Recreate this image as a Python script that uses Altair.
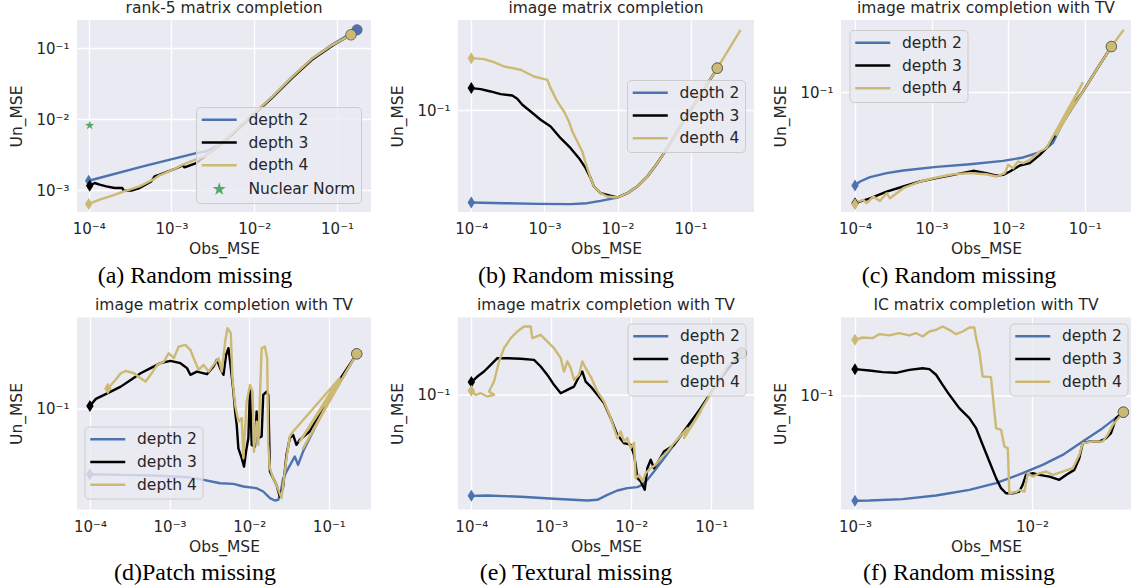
import altair as alt
import pandas as pd

FONT = "DejaVu Sans"
TXT = "#262626"
BG = "#EAEAF2"
COLORS = {"depth 2": "#4C72B0", "depth 3": "#000000", "depth 4": "#CCB974", "Nuclear Norm": "#55A868"}
SERIES = ["depth 2", "depth 3", "depth 4"]
LINE_PATH = "M-3.5,0L3.5,0"
STAR_PATH = ("M0,-1L0.235,-0.324L0.951,-0.309L0.38,0.124L0.588,0.809L0,0.4"
             "L-0.588,0.809L-0.38,0.124L-0.951,-0.309L-0.235,-0.324Z")
LEGEND_STAR_PATH = ("M0,-0.6L0.141,-0.194L0.571,-0.185L0.228,0.074L0.353,0.485L0,0.24"
                    "L-0.353,0.485L-0.228,0.074L-0.571,-0.185L-0.141,-0.194Z")
DIAMOND_PATH = "M0,-1L0.62,0L0,1L-0.62,0Z"

# ---- data: log10(Obs_MSE) and log10(Un_MSE) ----
# (a) rank-5 matrix completion
A2_X = [-4.000, -3.345, -2.701, -2.581, -2.420, -2.259, -2.018, -1.776, -1.535, -1.294, -1.053, -0.759]
A2_Y = [-2.869, -2.667, -2.479, -2.455, -2.362, -2.197, -1.939, -1.681, -1.399, -1.141, -0.944, -0.742]
A3_X = [-3.988, -3.928, -3.867, -3.787, -3.686, -3.594, -3.578, -3.485, -3.385, -3.244, -3.204, -3.144,
        -2.983, -2.862, -2.842, -2.701, -2.581, -2.420, -2.259, -2.018, -1.776, -1.535, -1.294, -1.053, -0.832]
A3_Y = [-2.939, -2.901, -2.925, -2.948, -2.972, -2.972, -3.009, -3.009, -2.972, -2.878, -2.808, -2.784,
        -2.714, -2.653, -2.681, -2.620, -2.512, -2.371, -2.207, -1.948, -1.690, -1.413, -1.155, -0.962, -0.812]
A4_X = [-4.000, -3.867, -3.706, -3.546, -3.385, -3.224, -3.144, -2.983, -2.862, -2.741, -2.581, -2.420,
        -2.259, -2.018, -1.776, -1.535, -1.294, -1.053, -0.832]
A4_Y = [-3.197, -3.136, -3.075, -3.009, -2.948, -2.854, -2.793, -2.714, -2.643, -2.587, -2.512, -2.362,
        -2.197, -1.939, -1.681, -1.399, -1.141, -0.953, -0.812]
NN_X = [-3.988]
NN_Y = [-2.089]

# (b) image matrix completion
B_TAIL_X = [-2.003, -1.866, -1.729, -1.592, -1.456, -1.319, -1.182, -1.045, -0.863, -0.635]
B_TAIL_Y = [-1.750, -1.713, -1.655, -1.569, -1.454, -1.325, -1.181, -1.037, -0.865, -0.635]
B2_X = [-4.000, -3.553, -3.097, -2.641, -2.413, -2.231] + B_TAIL_X
B2_Y = [-1.793, -1.799, -1.805, -1.807, -1.799, -1.779] + B_TAIL_Y
B3_X = [-4.000, -3.872, -3.736, -3.599, -3.439, -3.371, -3.302, -3.188, -3.052, -2.915, -2.778, -2.641,
        -2.527, -2.436, -2.368, -2.322, -2.231, -2.140] + B_TAIL_X
B3_Y = [-0.807, -0.816, -0.836, -0.859, -0.871, -0.899, -0.951, -1.009, -1.080, -1.138, -1.239, -1.325,
        -1.411, -1.497, -1.583, -1.655, -1.713, -1.727] + B_TAIL_Y
B4_X = [-4.000, -3.827, -3.690, -3.553, -3.325, -3.143, -2.960, -2.915, -2.824, -2.732, -2.664, -2.618,
        -2.550, -2.482, -2.436, -2.368, -2.322, -2.231, -2.140] + B_TAIL_X + [-0.316]
B4_Y = [-0.549, -0.557, -0.583, -0.621, -0.649, -0.707, -0.736, -0.807, -0.922, -1.009, -1.095, -1.181,
        -1.267, -1.353, -1.454, -1.583, -1.655, -1.713, -1.741] + B_TAIL_Y + [-0.305]

# (c) image matrix completion with TV, random missing
C2_X = [-4.000, -3.935, -3.804, -3.587, -3.370, -2.935, -2.500, -2.065, -1.804, -1.630, -1.522, -1.413,
        -1.196, -1.022, -0.848, -0.652]
C2_Y = [-1.705, -1.674, -1.641, -1.611, -1.591, -1.563, -1.543, -1.518, -1.492, -1.460, -1.434, -1.379,
        -1.119, -0.992, -0.828, -0.652]
C3_X = [-4.000, -3.804, -3.587, -3.370, -3.152, -2.935, -2.717, -2.457, -2.283, -2.152, -2.065, -1.978,
        -1.848, -1.717, -1.587, -1.500, -1.370, -1.196, -1.022, -0.848, -0.652]
C3_Y = [-1.838, -1.801, -1.750, -1.712, -1.674, -1.649, -1.624, -1.593, -1.611, -1.629, -1.624, -1.598,
        -1.553, -1.535, -1.472, -1.422, -1.308, -1.144, -0.992, -0.828, -0.652]
C4_X = [-4.000, -3.978, -3.891, -3.848, -3.761, -3.674, -3.587, -3.543, -3.370, -3.152, -2.935, -2.717,
        -2.500, -2.283, -2.152, -2.043, -2.000, -1.935, -1.870, -1.804, -1.717, -1.587, -1.500, -1.030,
        -1.370, -1.196, -1.022, -0.848, -0.652, -0.491]
C4_Y = [-1.846, -1.831, -1.813, -1.838, -1.788, -1.821, -1.763, -1.801, -1.725, -1.674, -1.644, -1.619,
        -1.611, -1.619, -1.636, -1.611, -1.548, -1.573, -1.523, -1.535, -1.510, -1.447, -1.422, -0.929,
        -1.321, -1.144, -0.992, -0.828, -0.652, -0.525]

# (d) patch missing
D2_X = [-4.000, -3.613, -3.197, -2.781, -2.573, -2.365, -2.198, -2.073, -1.907, -1.824, -1.740, -1.678,
        -1.636, -1.607, -1.574, -1.532, -1.428, -1.387, -1.324, -1.075, -0.650]
D2_Y = [-1.425, -1.429, -1.433, -1.444, -1.461, -1.483, -1.487, -1.504, -1.515, -1.536, -1.579, -1.594,
        -1.590, -1.547, -1.451, -1.408, -1.311, -1.365, -1.279, -1.021, -0.650]
D3_X = [-4.000, -3.925, -3.821, -3.738, -3.613, -3.488, -3.363, -3.238, -3.114, -2.989, -2.864, -2.781,
        -2.739, -2.656, -2.531, -2.448, -2.406, -2.365, -2.323, -2.290, -2.261, -2.240, -2.198, -2.177,
        -2.157, -2.136, -2.094, -2.065, -2.040, -2.011, -1.990, -1.969, -1.928, -1.907, -1.886, -1.844,
        -1.824, -1.782, -1.761, -1.740, -1.699, -1.657, -1.616, -1.574, -1.532, -1.491, -1.449, -1.407,
        -1.366, -1.241, -0.908, -0.650]
D3_Y = [-0.985, -0.940, -0.914, -0.893, -0.861, -0.818, -0.775, -0.742, -0.710, -0.695, -0.710, -0.742,
        -0.785, -0.764, -0.781, -0.732, -0.689, -0.742, -0.785, -0.657, -0.614, -0.700, -0.893, -1.021,
        -1.107, -1.258, -1.322, -1.376, -1.279, -1.193, -0.871, -1.236, -1.247, -1.021, -1.193, -1.182,
        -0.914, -0.893, -0.914, -1.408, -1.451, -1.494, -1.569, -1.504, -1.300, -1.193, -1.172, -1.236,
        -1.204, -1.150, -0.850, -0.650]
D4_X = [-3.775, -3.696, -3.613, -3.551, -3.447, -3.363, -3.301, -3.238, -3.155, -3.072, -3.010, -2.947,
        -2.885, -2.801, -2.739, -2.697, -2.635, -2.573, -2.510, -2.448, -2.385, -2.344, -2.302, -2.273,
        -2.231, -2.211, -2.177, -2.136, -2.094, -2.073, -2.032, -1.990, -1.957, -1.940, -1.907, -1.886,
        -1.844, -1.803, -1.774, -1.761, -1.740, -1.699, -1.657, -1.595, -1.574, -1.532, -1.491, -1.449,
        -0.866, -1.366, -0.866, -1.324, -0.783, -0.650]
D4_Y = [-0.873, -0.828, -0.775, -0.760, -0.775, -0.807, -0.828, -0.785, -0.721, -0.700, -0.646, -0.678,
        -0.603, -0.592, -0.624, -0.678, -0.753, -0.721, -0.764, -0.721, -0.678, -0.764, -0.571, -0.485,
        -0.517, -0.807, -0.979, -1.086, -1.064, -1.322, -0.957, -0.850, -0.893, -1.279, -1.086, -1.236,
        -0.614, -0.603, -0.678, -1.236, -1.386, -1.451, -1.494, -1.579, -1.494, -1.322, -1.182, -1.150,
        -0.807, -1.215, -0.828, -1.258, -0.764, -0.650]

# (e) textural missing
E2_X = [-4.000, -3.800, -3.383, -2.967, -2.550, -2.425, -2.300, -2.175, -2.050, -1.925, -1.862, -1.800,
        -1.717, -1.592, -1.467, -1.342, -1.217, -1.050, -0.883, -0.625]
E2_Y = [-1.866, -1.863, -1.874, -1.891, -1.906, -1.900, -1.857, -1.820, -1.800, -1.791, -1.771, -1.729,
        -1.657, -1.543, -1.429, -1.314, -1.200, -1.029, -0.857, -0.643]
E3_X = [-4.000, -3.925, -3.842, -3.758, -3.675, -3.550, -3.383, -3.217, -3.133, -3.050, -2.967, -2.883,
        -2.800, -2.717, -2.654, -2.613, -2.571, -2.508, -2.425, -2.342, -2.258, -2.175, -2.092, -2.008,
        -1.967, -1.946, -1.925, -1.883, -1.833, -1.800, -1.758, -1.717, -1.675, -1.592, -1.467, -1.300,
        -1.133, -0.967, -0.800, -0.625]
E3_Y = [-0.891, -0.843, -0.800, -0.743, -0.686, -0.686, -0.691, -0.700, -0.757, -0.829, -0.914, -0.986,
        -0.957, -0.929, -0.843, -0.800, -0.886, -0.929, -1.000, -1.071, -1.200, -1.343, -1.414, -1.429,
        -1.514, -1.600, -1.714, -1.743, -1.814, -1.629, -1.557, -1.629, -1.586, -1.486, -1.429, -1.271,
        -1.114, -0.943, -0.771, -0.643]
E4_X = [-4.000, -3.946, -3.883, -3.800, -3.717, -3.779, -3.717, -3.654, -3.592, -3.508, -3.425, -3.342,
        -3.258, -3.238, -3.133, -3.050, -2.967, -2.883, -2.842, -2.800, -2.758, -2.717, -2.654, -2.613,
        -2.571, -2.508, -2.425, -2.342, -2.258, -2.175, -2.133, -2.092, -2.050, -2.008, -1.967, -1.946,
        -1.904, -1.862, -1.821, -1.758, -1.696, -1.633, -1.550, -1.467, -1.300, -1.342, -1.133, -1.217,
        -0.967, -0.800, -0.625]
E4_Y = [-0.966, -1.000, -0.986, -1.014, -1.000, -0.971, -0.886, -0.714, -0.600, -0.514, -0.457, -0.414,
        -0.414, -0.514, -0.486, -0.543, -0.600, -0.686, -0.800, -0.714, -0.771, -0.871, -0.829, -0.714,
        -0.771, -0.843, -0.971, -1.057, -1.200, -1.371, -1.314, -1.400, -1.371, -1.457, -1.414, -1.714,
        -1.686, -1.743, -1.671, -1.629, -1.600, -1.543, -1.486, -1.414, -1.286, -1.371, -1.143, -1.229,
        -0.943, -0.757, -0.643]

# (f) IC matrix completion with TV
F2_X = [-3.000, -2.919, -2.731, -2.542, -2.354, -2.203, -2.053, -1.940, -1.827, -1.714, -1.601, -1.484]
F2_Y = [-1.752, -1.750, -1.740, -1.714, -1.674, -1.626, -1.555, -1.495, -1.424, -1.329, -1.233, -1.119]
F3_X = [-3.000, -2.919, -2.844, -2.768, -2.693, -2.618, -2.580, -2.542, -2.505, -2.467, -2.411, -2.354,
        -2.316, -2.279, -2.241, -2.203, -2.175, -2.147, -2.109, -2.072, -2.053, -2.034, -1.996, -1.959,
        -1.902, -1.846, -1.808, -1.761, -1.733, -1.714, -1.676, -1.620, -1.582, -1.554, -1.525, -1.484]
F3_Y = [-0.812, -0.821, -0.833, -0.838, -0.817, -0.805, -0.812, -0.852, -0.924, -0.995, -1.090, -1.162,
        -1.233, -1.352, -1.471, -1.590, -1.662, -1.698, -1.698, -1.686, -1.638, -1.567, -1.555, -1.567,
        -1.579, -1.602, -1.567, -1.531, -1.448, -1.340, -1.329, -1.329, -1.305, -1.269, -1.162, -1.119]
F4_X = [-3.000, -2.957, -2.900, -2.863, -2.806, -2.750, -2.693, -2.655, -2.618, -2.580, -2.542, -2.505,
        -2.467, -2.429, -2.392, -2.354, -2.326, -2.316, -2.298, -2.279, -2.232, -2.222, -2.203, -2.175,
        -2.156, -2.137, -2.128, -2.090, -2.072, -2.043, -2.024, -1.996, -1.959, -1.921, -1.883, -1.827,
        -1.770, -1.733, -1.714, -1.657, -1.601, -1.573, -1.544, -1.484]
F4_Y = [-0.602, -0.586, -0.590, -0.562, -0.571, -0.555, -0.571, -0.555, -0.579, -0.543, -0.531, -0.507,
        -0.531, -0.562, -0.543, -0.514, -0.514, -0.590, -0.686, -0.864, -0.869, -0.995, -1.233, -1.245,
        -1.364, -1.376, -1.698, -1.690, -1.674, -1.686, -1.555, -1.579, -1.555, -1.543, -1.567, -1.543,
        -1.519, -1.424, -1.340, -1.329, -1.329, -1.281, -1.210, -1.119]

TITLES = ["rank-5 matrix completion", "image matrix completion", "image matrix completion with TV",
          "image matrix completion with TV", "image matrix completion with TV", "IC matrix completion with TV"]
CAPTIONS = ["(a) Random missing", "(b) Random missing", "(c) Random missing",
            "(d)Patch missing", "(e) Textural missing", "(f) Random missing"]

PANELS = [
    dict(series=[(A2_X, A2_Y, -1), (A3_X, A3_Y, -1), (A4_X, A4_Y, -1)], star=(NN_X, NN_Y),
         xdom=(-4.141, -0.590), ydom=(-3.310, -0.603), width=294, legend=(119, 87)),
    dict(series=[(B2_X, B2_Y, -1), (B3_X, B3_Y, -1), (B4_X, B4_Y, -2)], star=None,
         xdom=(-4.182, -0.133), ydom=(-1.875, -0.220), width=296, legend=(169, 60)),
    dict(series=[(C2_X, C2_Y, -1), (C3_X, C3_Y, -1), (C4_X, C4_Y, -2)], star=None,
         xdom=(-4.183, -0.396), ydom=(-1.905, -0.451), width=290, legend=(8.5, 10)),
    dict(series=[(D2_X, D2_Y, -1), (D3_X, D3_Y, -1), (D4_X, D4_Y, -1)], star=None,
         xdom=(-4.162, -0.471), ydom=(-1.652, -0.416), width=294, legend=(7.5, 109)),
    dict(series=[(E2_X, E2_Y, -1), (E3_X, E3_Y, -1), (E4_X, E4_Y, -1)], star=None,
         xdom=(-4.167, -0.467), ydom=(-1.983, -0.337), width=296, legend=(169.5, 6)),
    dict(series=[(F2_X, F2_Y, -1), (F3_X, F3_Y, -1), (F4_X, F4_Y, -1)], star=None,
         xdom=(-3.079, -1.441), ydom=(-1.814, -0.443), width=290, legend=(168.5, 6)),
]

H = 192
LABEL_EXPR = ("datum.value < 0.0005 ? '10⁻⁴' : datum.value < 0.005 ? '10⁻³' : "
              "datum.value < 0.05 ? '10⁻²' : '10⁻¹'")


def decade_ticks(lo, hi):
    return [10.0 ** k for k in range(-6, 1) if lo <= k <= hi]


def make_panel(idx, cfg):
    names = list(SERIES)
    rows, first, circ = [], [], []
    for name, (xs, ys, ci) in zip(names, cfg["series"]):
        for i, (lx, ly) in enumerate(zip(xs, ys)):
            rows.append({"series": name, "col": COLORS[name], "i": i, "x": 10 ** lx, "y": 10 ** ly})
        first.append({"series": name, "col": COLORS[name], "x": 10 ** xs[0], "y": 10 ** ys[0]})
        circ.append({"series": name, "col": COLORS[name], "x": 10 ** xs[ci], "y": 10 ** ys[ci]})
    dom = list(names)
    if cfg["star"] is not None:
        dom.append("Nuclear Norm")
    colors = [COLORS[d] for d in dom]
    shapes = [LEGEND_STAR_PATH if d == "Nuclear Norm" else LINE_PATH for d in dom]

    x0, x1 = cfg["xdom"]
    y0, y1 = cfg["ydom"]
    xaxis = alt.Axis(values=decade_ticks(x0, x1), labelExpr=LABEL_EXPR, title="Obs_MSE",
                     grid=True, gridColor="white", gridWidth=1.3, domain=False, ticks=False, tickSize=0,
                     labelFont=FONT, labelFontSize=15, labelColor=TXT, labelPadding=21.5,
                     labelBaseline="alphabetic", labelFlush=False, labelOverlap=False,
                     titleFont=FONT, titleFontSize=15.5, titleFontWeight="normal", titleColor=TXT,
                     titleY=41.5, titleBaseline="alphabetic")
    yaxis = alt.Axis(values=decade_ticks(y0, y1), labelExpr=LABEL_EXPR, title="Un_MSE",
                     grid=True, gridColor="white", gridWidth=1.3, domain=False, ticks=False, tickSize=0,
                     labelFont=FONT, labelFontSize=15, labelColor=TXT, labelPadding=8,
                     labelFlush=False, labelOverlap=False,
                     titleFont=FONT, titleFontSize=15.5, titleFontWeight="normal", titleColor=TXT,
                     titleX=-56, titleBaseline="alphabetic")
    X = alt.X("x:Q", scale=alt.Scale(type="log", domain=[10 ** x0, 10 ** x1], nice=False), axis=xaxis)
    Y = alt.Y("y:Q", scale=alt.Scale(type="log", domain=[10 ** y0, 10 ** y1], nice=False), axis=yaxis)
    col = alt.Color("col:N", scale=None)

    lines = alt.Chart(pd.DataFrame(rows)).mark_line(strokeWidth=2.4, clip=True, strokeJoin="round").encode(
        x=X, y=Y, color=col, detail="series:N", order=alt.Order("i:Q"))
    diamonds = alt.Chart(pd.DataFrame(first)).mark_point(
        shape=DIAMOND_PATH, filled=True, size=144, opacity=1).encode(x=X, y=Y, color=col)
    circles = alt.Chart(pd.DataFrame(circ)).mark_point(
        shape="circle", filled=True, size=110, opacity=1, stroke="#555555", strokeWidth=0.8,
        strokeOpacity=0.6).encode(x=X, y=Y, color=col)
    layers = [lines, diamonds, circles]
    if cfg["star"] is not None:
        sx, sy = cfg["star"]
        star = alt.Chart(pd.DataFrame({"x": [10 ** v for v in sx], "y": [10 ** v for v in sy]})).mark_point(
            shape=STAR_PATH, filled=True, size=90, opacity=1, color=COLORS["Nuclear Norm"]).encode(x=X, y=Y)
        layers.append(star)

    # legend-only layer: its points lie outside the plotted range and are clipped away
    lx, ly = cfg["legend"]
    leg = alt.Legend(title=None, orient="none", legendX=lx, legendY=ly, symbolSize=100,
                     symbolStrokeWidth=2.5, symbolOpacity=1, symbolOffset=10.5, labelOffset=21.5,
                     rowPadding=5.8, padding=5, fillColor="rgba(234,234,242,0.8)",
                     strokeColor="#CCCCCC", cornerRadius=4, labelFont=FONT, labelFontSize=15.5,
                     labelColor=TXT)
    leg_df = pd.DataFrame({"series": dom, "x": [10 ** (x1 + 0.5)] * len(dom),
                           "y": [10 ** (y1 + 0.5)] * len(dom)})
    legend_layer = alt.Chart(leg_df).mark_point(filled=True, clip=True, size=100).encode(
        x=X, y=Y,
        fill=alt.Fill("series:N", scale=alt.Scale(domain=dom, range=colors), legend=leg),
        stroke=alt.Stroke("series:N", scale=alt.Scale(domain=dom, range=colors), legend=leg),
        shape=alt.Shape("series:N", scale=alt.Scale(domain=dom, range=shapes), legend=leg))
    layers.append(legend_layer)

    caption = alt.Chart(pd.DataFrame({"t": [CAPTIONS[idx]]})).mark_text(
        font="Liberation Serif", fontSize=24, color="black", align="center", baseline="alphabetic").encode(
        x=alt.value(118), y=alt.value(H + 70.5), text=alt.Text("t:N"))
    layers.append(caption)

    return alt.layer(*layers).properties(
        width=cfg["width"], height=H,
        title=alt.TitleParams(TITLES[idx], font=FONT, fontSize=15.5, fontWeight="normal", color=TXT,
                              offset=4, anchor="middle", frame="group"))


charts = [make_panel(i, p) for i, p in enumerate(PANELS)]
chart = alt.concat(*charts, columns=3, spacing={"row": 105.5, "column": 87}, bounds="flush").resolve_scale(
    fill="independent", stroke="independent", shape="independent"
).resolve_legend(
    fill="independent", stroke="independent", shape="independent"
).properties(
    padding={"left": 9, "top": 0, "right": 0, "bottom": 0}, background="white"
).configure_view(fill=BG, strokeWidth=0)

chart.save("out.html", embed_options={"renderer": "svg", "actions": False})
